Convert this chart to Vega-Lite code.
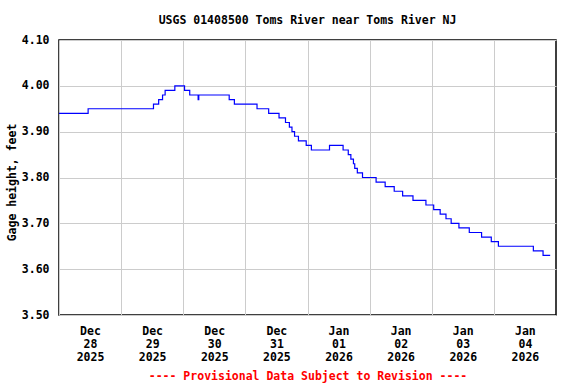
{
  "$schema": "https://vega.github.io/schema/vega-lite/v6.json",
  "width": 497,
  "height": 275,
  "autosize": {"type": "none"},
  "padding": {"left": 59, "top": 40, "right": 20, "bottom": 69},
  "background": "white",
  "title": {
    "text": "USGS 01408500 Toms River near Toms River NJ",
    "anchor": "middle",
    "font": "DejaVu Sans Mono",
    "fontSize": 11.5,
    "fontWeight": "bold",
    "color": "black",
    "offset": 8
  },
  "config": {
    "view": {"stroke": "black", "strokeWidth": 1.5},
    "axis": {
      "labelFont": "DejaVu Sans Mono",
      "labelFontSize": 11.5,
      "labelFontWeight": "bold",
      "labelColor": "black",
      "titleFont": "DejaVu Sans Mono",
      "titleFontSize": 11.5,
      "titleFontWeight": "bold",
      "titleColor": "black",
      "gridColor": "#cccccc",
      "gridWidth": 1,
      "gridOpacity": 1,
      "domain": false,
      "ticks": false,
      "tickSize": 0
    }
  },
  "data": {
    "values": [
      {"time": "2025-12-28T00:00:00Z", "height": 3.94},
      {"time": "2025-12-28T11:15:00Z", "height": 3.95},
      {"time": "2025-12-29T12:30:00Z", "height": 3.96},
      {"time": "2025-12-29T14:30:00Z", "height": 3.97},
      {"time": "2025-12-29T16:00:00Z", "height": 3.98},
      {"time": "2025-12-29T17:00:00Z", "height": 3.99},
      {"time": "2025-12-29T20:45:00Z", "height": 4.00},
      {"time": "2025-12-30T00:30:00Z", "height": 3.99},
      {"time": "2025-12-30T02:30:00Z", "height": 3.98},
      {"time": "2025-12-30T05:45:00Z", "height": 3.97},
      {"time": "2025-12-30T06:00:00Z", "height": 3.98},
      {"time": "2025-12-30T17:45:00Z", "height": 3.97},
      {"time": "2025-12-30T19:45:00Z", "height": 3.96},
      {"time": "2025-12-31T04:30:00Z", "height": 3.95},
      {"time": "2025-12-31T09:00:00Z", "height": 3.94},
      {"time": "2025-12-31T13:00:00Z", "height": 3.93},
      {"time": "2025-12-31T15:30:00Z", "height": 3.92},
      {"time": "2025-12-31T17:00:00Z", "height": 3.91},
      {"time": "2025-12-31T18:00:00Z", "height": 3.90},
      {"time": "2025-12-31T19:00:00Z", "height": 3.89},
      {"time": "2025-12-31T20:30:00Z", "height": 3.88},
      {"time": "2025-12-31T23:30:00Z", "height": 3.87},
      {"time": "2026-01-01T01:30:00Z", "height": 3.86},
      {"time": "2026-01-01T08:30:00Z", "height": 3.87},
      {"time": "2026-01-01T13:45:00Z", "height": 3.86},
      {"time": "2026-01-01T15:45:00Z", "height": 3.85},
      {"time": "2026-01-01T16:45:00Z", "height": 3.84},
      {"time": "2026-01-01T17:45:00Z", "height": 3.83},
      {"time": "2026-01-01T18:15:00Z", "height": 3.82},
      {"time": "2026-01-01T19:15:00Z", "height": 3.81},
      {"time": "2026-01-01T21:15:00Z", "height": 3.80},
      {"time": "2026-01-02T02:30:00Z", "height": 3.79},
      {"time": "2026-01-02T06:00:00Z", "height": 3.78},
      {"time": "2026-01-02T09:30:00Z", "height": 3.77},
      {"time": "2026-01-02T12:45:00Z", "height": 3.76},
      {"time": "2026-01-02T16:45:00Z", "height": 3.75},
      {"time": "2026-01-02T21:45:00Z", "height": 3.74},
      {"time": "2026-01-03T00:45:00Z", "height": 3.73},
      {"time": "2026-01-03T03:15:00Z", "height": 3.72},
      {"time": "2026-01-03T05:30:00Z", "height": 3.71},
      {"time": "2026-01-03T07:30:00Z", "height": 3.70},
      {"time": "2026-01-03T10:30:00Z", "height": 3.69},
      {"time": "2026-01-03T14:30:00Z", "height": 3.68},
      {"time": "2026-01-03T19:15:00Z", "height": 3.67},
      {"time": "2026-01-03T23:00:00Z", "height": 3.66},
      {"time": "2026-01-04T01:45:00Z", "height": 3.65},
      {"time": "2026-01-04T15:15:00Z", "height": 3.64},
      {"time": "2026-01-04T19:00:00Z", "height": 3.63},
      {"time": "2026-01-04T21:45:00Z", "height": 3.63}
    ]
  },
  "mark": {"type": "line", "interpolate": "step-after", "color": "#0000ff", "strokeWidth": 1.2, "clip": true},
  "encoding": {
    "x": {
      "field": "time",
      "type": "temporal",
      "scale": {"type": "utc", "domain": ["2025-12-28T00:00:00Z", "2026-01-05T00:00:00Z"]},
      "axis": {
        "title": "---- Provisional Data Subject to Revision ----",
        "titleColor": "#ff0000",
        "titlePadding": 8,
        "values": ["2025-12-28T00:00:00Z", "2025-12-29T00:00:00Z", "2025-12-30T00:00:00Z", "2025-12-31T00:00:00Z", "2026-01-01T00:00:00Z", "2026-01-02T00:00:00Z", "2026-01-03T00:00:00Z", "2026-01-04T00:00:00Z"],
        "labelExpr": "[utcFormat(datum.value, '%b'), utcFormat(datum.value, '%d'), utcFormat(datum.value, '%Y')]",
        "labelOffset": 31,
        "labelPadding": 10,
        "labelBaseline": "top",
        "labelLineHeight": 13,
        "labelAlign": "center",
        "labelFlush": false,
        "labelOverlap": false,
        "labelBound": false
      }
    },
    "y": {
      "field": "height",
      "type": "quantitative",
      "scale": {"domain": [3.5, 4.1], "zero": false, "nice": false},
      "axis": {
        "title": "Gage height, feet",
        "values": [3.5, 3.6, 3.7, 3.8, 3.9, 4.0, 4.1],
        "format": ".2f",
        "labelPadding": 10,
        "titlePadding": 4,
        "titleY": 142
      }
    }
  }
}
